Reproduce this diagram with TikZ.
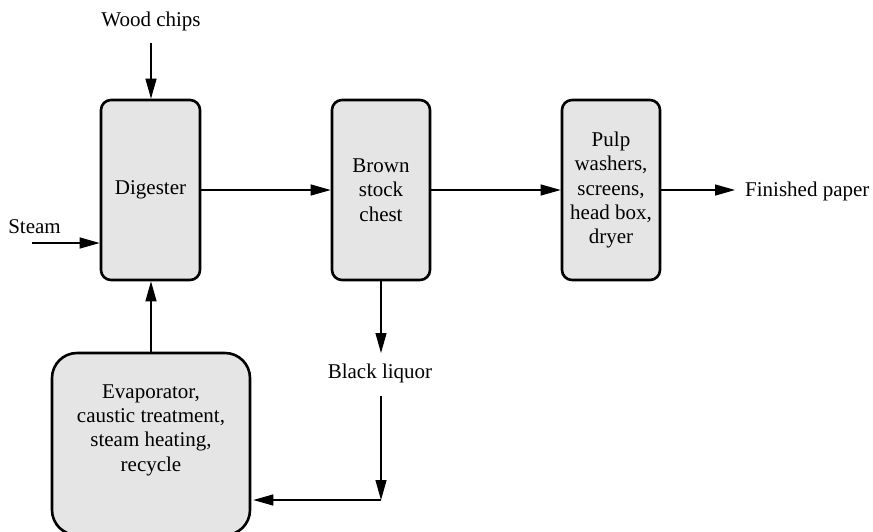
\documentclass[tikz,border=0pt]{standalone}
\usepackage{fontspec}
\setmainfont{Liberation Serif}
\usetikzlibrary{arrows.meta}
\begin{document}
\begin{tikzpicture}[x=1pt,y=-1pt,
  box/.style={draw=black, line width=2.6pt, fill=black!10, rounded corners=10pt, align=center, inner sep=0pt},
  arr/.style={line width=1.2pt, -{Triangle[length=20pt,width=11pt]}},
  lbl/.style={inner sep=0pt, align=center},
  every node/.style={font=\fontsize{21}{24.3}\selectfont}]
\useasboundingbox (0,0) rectangle (873,531);
\node[box, minimum width=99pt, minimum height=180pt] (dig) at (150.5,190) {\raisebox{-4pt}{Digester}};
\node[box, minimum width=98pt, minimum height=180pt] (brown) at (381,190) {Brown\\stock\\chest};
\node[box, minimum width=98pt, minimum height=180pt] (pulp) at (611,190) {Pulp\\washers,\\screens,\\head box,\\dryer};
\node[box, rounded corners=25pt, minimum width=198pt, minimum height=182pt] (evap) at (151,444) {Evaporator,\\caustic treatment,\\steam heating,\\recycle\\[8pt]};
\node[lbl] (wood) at (151,21) {Wood chips};
\node[lbl] (steam) at (34.5,227) {Steam};
\node[lbl, anchor=west] (fin) at (745,191) {Finished paper};
\node[lbl] (bl) at (380,373) {Black liquor};
\coordinate (wtop) at (151,43);
\coordinate (sin) at (32,243);
\coordinate (fintip) at (735,190);
\coordinate (bltop) at (381,353);
\coordinate (blbot) at (381,396);
\coordinate (corner) at (381,500);
\draw[arr] (wtop) -- (wtop |- dig.north);
\draw[arr] (sin) -- (sin -| dig.west);
\draw[arr] (dig) -- (brown);
\draw[arr] (brown) -- (pulp);
\draw[arr] (pulp.east) -- (fintip);
\draw[arr] (bltop |- brown.south) -- (bltop);
\draw[arr] (blbot) -- (corner);
\draw[arr] (corner) -- ([xshift=2pt]corner -| evap.east);
\draw[arr] (evap.north) -- (evap.north |- dig.south);
\end{tikzpicture}
\end{document}
